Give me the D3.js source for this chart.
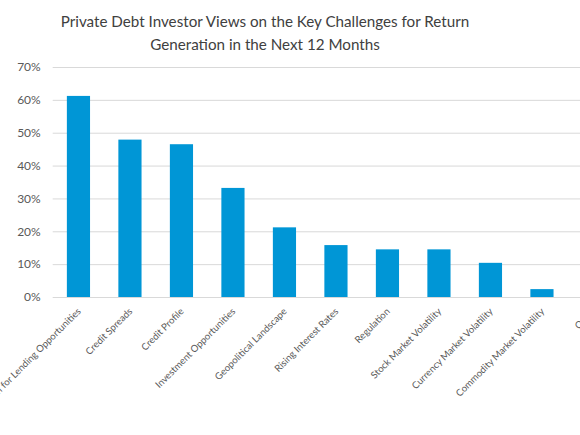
<!DOCTYPE html>
<html>
<head>
<meta charset="utf-8"/>
<title>Private Debt Investor Views</title>
<script src="https://d3js.org/d3.v7.min.js"></script>
<style>
  html, body { margin: 0; padding: 0; background: #fff; overflow: hidden; }
  text { font-family: Lato, "Open Sans", sans-serif; }
</style>
</head>
<body>
<svg width="580" height="435"></svg>
<script>
// data
var titleLines = ["Private Debt Investor Views on the Key Challenges for Return",
                  "Generation in the Next 12 Months"];
var categories = ["Competition for Lending Opportunities", "Credit Spreads", "Credit Profile",
                  "Investment Opportunities", "Geopolitical Landscape", "Rising Interest Rates",
                  "Regulation", "Stock Market Volatility", "Currency Market Volatility",
                  "Commodity Market Volatility", "Other"];
var values = [61.2, 47.9, 46.5, 33.2, 21.2, 15.8, 14.5, 14.5, 10.4, 2.4, 1.0];
var yTicks = [0, 10, 20, 30, 40, 50, 60, 70];

var plotLeft = 52.7, plotTop = 67, plotBottom = 297;
var step = 51.5;

var svg = d3.select("svg");

var x = d3.scaleBand()
  .domain(categories)
  .range([plotLeft, plotLeft + step * categories.length])
  .paddingInner(0.55)
  .paddingOuter(0.275);

var y = d3.scaleLinear().domain([0, 70]).range([plotBottom, plotTop]);

// title
svg.append("text")
  .attr("x", 265)
  .attr("y", 27)
  .attr("text-anchor", "middle")
  .style("font-size", "15.2px")
  .style("fill", "#404040")
  .selectAll("tspan")
  .data(titleLines)
  .enter().append("tspan")
  .attr("x", 265)
  .attr("dy", function(d, i) { return i === 0 ? 0 : 23; })
  .text(function(d) { return d; });

// grid lines + y labels
var yAxis = d3.axisLeft(y)
  .tickValues(yTicks)
  .tickSize(-(step * categories.length + 40))
  .tickPadding(12)
  .tickFormat(function(d) { return d + "%"; });

var gy = svg.append("g")
  .attr("transform", "translate(" + plotLeft + ",0)")
  .call(yAxis);
gy.select(".domain").remove();
gy.selectAll(".tick line").attr("stroke", "#d9d9d9").attr("stroke-width", 1);
gy.selectAll(".tick text")
  .style("font-size", "12px")
  .style("fill", "#595959")
  .style("font-family", "Lato, 'Open Sans', sans-serif");

// bars
svg.selectAll("rect.bar")
  .data(values)
  .enter().append("rect")
  .attr("class", "bar")
  .attr("x", function(d, i) { return x(categories[i]); })
  .attr("y", function(d) { return y(d); })
  .attr("width", x.bandwidth())
  .attr("height", function(d) { return y(0) - y(d); })
  .attr("fill", "#0096d6");

// x labels
var xAxis = d3.axisBottom(x).tickSize(0).tickPadding(0);
var gx = svg.append("g")
  .attr("transform", "translate(0," + plotBottom + ")")
  .call(xAxis);
gx.select(".domain").remove();
gx.selectAll(".tick text")
  .attr("text-anchor", "end")
  .attr("dy", null)
  .attr("y", null)
  .attr("transform", "translate(3,15) rotate(-45)")
  .style("font-size", "9.6px")
  .style("fill", "#595959")
  .style("font-family", "Lato, 'Open Sans', sans-serif");
</script>
</body>
</html>
